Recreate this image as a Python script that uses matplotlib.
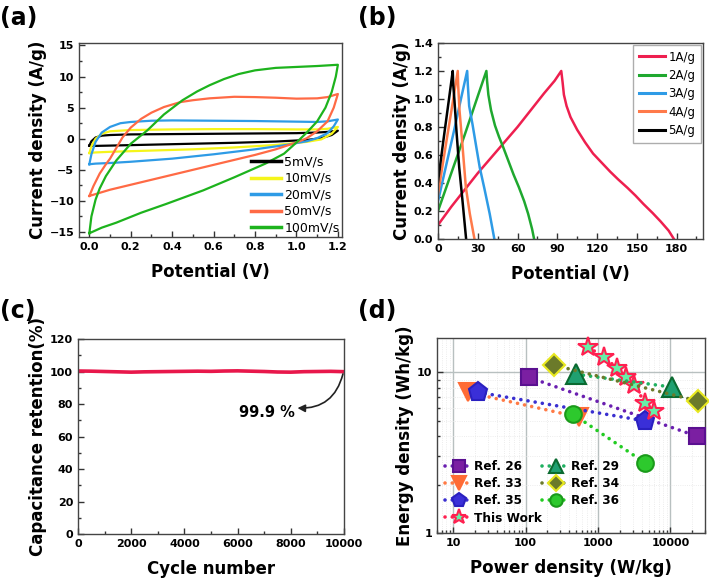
import matplotlib
matplotlib.use("Agg")
import matplotlib.pyplot as plt
from matplotlib.ticker import MultipleLocator, FixedLocator, NullFormatter, LogLocator

plt.rcParams['font.family'] = ['DejaVu Sans']
plt.rcParams['font.weight'] = 'bold'
plt.rcParams['axes.labelweight'] = 'bold'

# ---------------- (a) CV data ----------------
cv_labels = ['5mV/s', '10mV/s', '20mV/s', '50mV/s', '100mV/s']
cv_colors = ['#000000', '#F5F51A', '#2E9BE6', '#FF6A45', '#1DB31D']

cv5_v = [0, 0.01, 0.03, 0.06, 0.1, 0.2, 0.4, 0.6, 0.8, 1.0, 1.1, 1.15, 1.2,
         1.17, 1.12, 1.05, 0.9, 0.7, 0.5, 0.3, 0.1, 0.03, 0]
cv5_i = [-1.1, -0.4, 0.2, 0.5, 0.6, 0.7, 0.75, 0.8, 0.85, 0.9, 1.0, 1.1, 1.3,
         0.6, 0.1, -0.2, -0.45, -0.65, -0.8, -0.95, -1.1, -1.15, -1.1]

cv10_v = [0, 0.01, 0.03, 0.06, 0.1, 0.2, 0.4, 0.6, 0.8, 1.0, 1.1, 1.15, 1.2,
          1.17, 1.12, 1.05, 0.9, 0.7, 0.5, 0.3, 0.1, 0.03, 0]
cv10_i = [-2.3, -1.2, 0.0, 0.8, 1.2, 1.4, 1.5, 1.55, 1.55, 1.5, 1.5, 1.6, 1.9,
          0.8, -0.1, -0.5, -1.0, -1.4, -1.7, -1.9, -2.1, -2.2, -2.3]

cv20_v = [0, 0.01, 0.03, 0.06, 0.1, 0.15, 0.2, 0.3, 0.4, 0.6, 0.8, 1.0, 1.1, 1.15, 1.2,
          1.18, 1.15, 1.1, 1.05, 0.95, 0.8, 0.6, 0.4, 0.2, 0.1, 0.03, 0]
cv20_i = [-4.1, -2.5, -0.5, 1.0, 1.9, 2.5, 2.7, 2.9, 2.95, 2.9, 2.85, 2.75, 2.7, 2.8, 3.1,
          2.0, 0.9, 0.1, -0.4, -1.0, -1.7, -2.5, -3.2, -3.7, -3.9, -4.0, -4.1]

cv50_v = [0, 0.02, 0.05, 0.08, 0.1, 0.13, 0.16, 0.2, 0.25, 0.3, 0.36, 0.44, 0.5, 0.58,
          0.7, 0.8, 0.9, 1.0, 1.1, 1.15, 1.2,
          1.18, 1.15, 1.1, 1.05, 1.0, 0.9, 0.8, 0.7, 0.6, 0.5, 0.4, 0.3, 0.2, 0.1,
          0.05, 0.02, 0]
cv50_i = [-9.2, -7.6, -5.6, -4.1, -3.2, -1.5, 0.2, 1.8, 3.2, 4.2, 5.1, 5.9, 6.2, 6.5,
          6.75, 6.7, 6.6, 6.45, 6.5, 6.7, 7.2,
          5.0, 2.8, 1.2, 0.1, -0.6, -1.7, -2.6, -3.4, -4.2, -5.0, -5.8, -6.6, -7.4, -8.2,
          -8.7, -9.0, -9.2]

cv100_v = [0, 0.01, 0.03, 0.05, 0.08, 0.13, 0.2, 0.28, 0.36, 0.45, 0.52, 0.58, 0.65,
           0.72, 0.8, 0.9, 1.0, 1.1, 1.2,
           1.19, 1.17, 1.14, 1.1, 1.05, 1.0, 0.94, 0.85, 0.7, 0.55, 0.37, 0.25, 0.13,
           0.06, 0.02, 0]
cv100_i = [-15.2, -12.5, -9.8, -8.0, -6.0, -3.5, -0.8, 1.35, 3.9, 6.2, 7.6, 8.6, 9.6,
           10.4, 11.0, 11.4, 11.55, 11.7, 11.9,
           10.0, 7.5, 5.0, 2.8, 1.0, -0.6, -2.4, -4.0, -6.2, -8.3, -10.5, -11.9, -13.5,
           -14.3, -14.9, -15.2]

cv_v = [cv5_v, cv10_v, cv20_v, cv50_v, cv100_v]
cv_i = [cv5_i, cv10_i, cv20_i, cv50_i, cv100_i]

# ---------------- (b) GCD data ----------------
gcd_labels = ['1A/g', '2A/g', '3A/g', '4A/g', '5A/g']
gcd_colors = ['#EE1F4F', '#1FA82F', '#2E9BE6', '#FF7A4A', '#000000']

g1_t = [0, 10, 20, 30, 40, 50, 60, 70, 80, 88, 93, 94, 95, 97, 100, 105, 111, 117, 124,
        130, 136, 143, 149, 155, 162, 168, 174, 178]
g1_i = [0.1, 0.23, 0.35, 0.47, 0.58, 0.69, 0.8, 0.92, 1.04, 1.13, 1.2, 1.12, 1.03, 0.95,
        0.87, 0.78, 0.69, 0.61, 0.54, 0.48, 0.425, 0.365, 0.31, 0.25, 0.185, 0.125, 0.06, 0.0]
g2_t = [0, 10, 20, 30, 36.5, 37, 38, 40, 43, 46, 49, 53, 57, 61, 65, 68, 71, 72.5]
g2_i = [0.2, 0.47, 0.74, 1.02, 1.2, 1.13, 1.03, 0.92, 0.81, 0.73, 0.66, 0.56, 0.46, 0.37,
        0.27, 0.18, 0.07, 0.0]
g3_t = [0, 6, 12, 18, 22, 22.5, 23.5, 26, 29, 31.5, 35, 39, 42.5]
g3_i = [0.27, 0.52, 0.77, 1.03, 1.2, 1.1, 0.95, 0.82, 0.65, 0.51, 0.36, 0.18, 0.0]
g4_t = [0, 5, 10, 14.9, 15.2, 16.2, 18, 21, 24, 27.5]
g4_i = [0.32, 0.62, 0.91, 1.2, 1.1, 0.92, 0.72, 0.37, 0.18, 0.0]
g5_t = [0, 4, 8, 11.1, 11.5, 12.4, 14, 16, 18.5, 21.2]
g5_i = [0.41, 0.7, 0.98, 1.2, 1.1, 0.99, 0.76, 0.51, 0.27, 0.0]

gcd_t = [g1_t, g2_t, g3_t, g4_t, g5_t]
gcd_i = [g1_i, g2_i, g3_i, g4_i, g5_i]

# ---------------- (c) cycling data ----------------
cycles = [0, 500, 1000, 1500, 2000, 2500, 3000, 3500, 4000, 4500, 5000, 5500, 6000,
          6500, 7000, 7500, 8000, 8500, 9000, 9500, 10000]
retention = [100.3, 100.2, 100.0, 99.8, 99.6, 99.8, 99.9, 100.0, 100.1, 100.2, 100.1,
             100.3, 100.4, 100.2, 100.0, 99.7, 99.6, 99.9, 100.0, 100.1, 99.9]

# ---------------- (d) Ragone data ----------------
rag_labels = ['Ref. 26', 'Ref. 33', 'Ref. 35', 'This Work', 'Ref. 29', 'Ref. 34', 'Ref. 36']
rag_p = [[110, 23000], [16, 550], [22, 4500],
         [730, 1210, 1830, 2430, 3140, 4520, 6020],
         [500, 10600], [247, 24300], [452, 4500]]
rag_e = [[9.3, 4.0], [7.5, 5.25], [7.5, 4.97],
         [14.3, 12.4, 10.6, 9.3, 8.3, 6.4, 5.7],
         [9.7, 8.07], [11.05, 6.6], [5.48, 2.72]]
rag_line = ['#6A1FB0', '#FF7A45', '#3A2FD0', '#FF2050', '#1FB060', '#6B7A2A', '#22CC22']
rag_face = ['#7B1FA2', '#FF6B35', '#3A2FD8', '#66F0A8', '#1FA070', '#6B7A2A', '#2DC92D']
rag_edge = ['#5A1090', '#FF6B35', '#2A20C0', '#FF2050', '#0A6A30', '#E8E820', '#1A9A1A']
rag_marker = ['s', 'v', 'p', '*', '^', 'D', 'o']
rag_msize = [12, 13, 14, 15, 14, 11, 12]

fig = plt.figure(figsize=(7.09, 5.86), dpi=100)

TICK_FS = 8
LABEL_FS = 12


def style(ax):
    for s in ax.spines.values():
        s.set_color('#444444')
        s.set_linewidth(1.0)
    ax.tick_params(which='major', length=4, direction='in', labelsize=TICK_FS,
                   width=1, color='#333333')
    ax.tick_params(which='minor', length=2.5, direction='in', width=1, color='#333333')


# (a)
axa = fig.add_axes([0.1114, 0.5956, 0.371, 0.331])
for v, i, c, lab in zip(cv_v, cv_i, cv_colors, cv_labels):
    axa.plot(v, i, color=c, lw=1.6, label=lab)
axa.set_xlim(-0.05, 1.22)
axa.set_ylim(-15.8, 15.4)
axa.xaxis.set_major_locator(MultipleLocator(0.2))
axa.xaxis.set_minor_locator(MultipleLocator(0.1))
axa.yaxis.set_major_locator(MultipleLocator(5))
axa.yaxis.set_minor_locator(MultipleLocator(2.5))
axa.xaxis.set_major_formatter(matplotlib.ticker.FormatStrFormatter('%.1f'))
style(axa)
axa.set_xlabel('Potential (V)', fontsize=LABEL_FS, labelpad=8)
axa.set_ylabel('Current density (A/g)', fontsize=LABEL_FS, labelpad=2)
leg = axa.legend(loc='lower right', frameon=False, handlelength=2.4,
                 labelspacing=0.28, borderaxespad=0.0, handletextpad=0.3,
                 borderpad=0.2,
                 prop={'weight': 'normal', 'size': 9})
for l in leg.get_lines():
    l.set_linewidth(2.5)

# (b)
axb = fig.add_axes([0.6178, 0.5922, 0.3738, 0.3345])
for t, i, c, lab in zip(gcd_t, gcd_i, gcd_colors, gcd_labels):
    axb.plot(t, i, color=c, lw=1.8, label=lab)
axb.set_xlim(0, 200)
axb.set_ylim(0, 1.4)
axb.xaxis.set_major_locator(FixedLocator([0, 30, 60, 90, 120, 150, 180]))
axb.xaxis.set_minor_locator(MultipleLocator(15))
axb.yaxis.set_major_locator(MultipleLocator(0.2))
axb.yaxis.set_minor_locator(MultipleLocator(0.1))
axb.yaxis.set_major_formatter(matplotlib.ticker.FormatStrFormatter('%.1f'))
style(axb)
axb.set_xlabel('Potential (V)', fontsize=LABEL_FS, labelpad=8)
axb.set_ylabel('Current density (A/g)', fontsize=LABEL_FS, labelpad=2)
legb = axb.legend(loc='upper right', fancybox=False, edgecolor='#999999',
                  handlelength=2.2, labelspacing=0.45, borderaxespad=0.15,
                  handletextpad=0.3, borderpad=0.5,
                  prop={'weight': 'normal', 'size': 8.5})
legb.get_frame().set_linewidth(1.0)
for l in legb.get_lines():
    l.set_linewidth(2.2)

# (c)
axc = fig.add_axes([0.11, 0.0887, 0.3752, 0.3328])
axc.plot(cycles, retention, color='#E8174B', lw=2.6)
axc.set_xlim(0, 10000)
axc.set_ylim(0, 120)
axc.xaxis.set_major_locator(MultipleLocator(2000))
axc.xaxis.set_minor_locator(MultipleLocator(1000))
axc.yaxis.set_major_locator(MultipleLocator(20))
axc.yaxis.set_minor_locator(MultipleLocator(10))
style(axc)
axc.set_xlabel('Cycle number', fontsize=LABEL_FS, labelpad=8)
axc.set_ylabel('Capacitance retention(%)', fontsize=LABEL_FS, labelpad=2)
axc.text(7100, 74.5, '99.9 %', fontsize=10.5, fontweight='bold', ha='center', va='center')
axc.annotate('', xy=(8250, 77.5), xytext=(9960, 98.5),
             arrowprops=dict(arrowstyle='-|>', color='#222222', lw=1.2,
                             mutation_scale=11,
                             connectionstyle='arc3,rad=-0.4', shrinkA=0, shrinkB=0))

# (d)
axd = fig.add_axes([0.6164, 0.0904, 0.378, 0.3328])
axd.set_xscale('log')
axd.set_yscale('log')
handles = []
for p, e, lc, fc, ec, mk, ms, lab in zip(rag_p, rag_e, rag_line, rag_face, rag_edge,
                                         rag_marker, rag_msize, rag_labels):
    h, = axd.plot(p, e, color=lc, lw=2.6, linestyle=(0, (0.01, 2.0)),
                  dash_capstyle='round', marker=mk, markersize=ms,
                  markerfacecolor=fc, markeredgecolor=ec, markeredgewidth=1.5,
                  label=lab, clip_on=False, zorder=3)
    handles.append(h)
axd.set_xlim(6, 30000)
axd.set_ylim(1, 16.3)
axd.grid(True, which='major', color='#B8C0C0', lw=1.0, zorder=0)
axd.grid(True, which='minor', color='#E6E6E6', lw=0.6, linestyle=':', zorder=0)
axd.set_axisbelow(True)
ragone_xticks = [10, 100, 1000, 10000]
ragone_xticklabels = ['10', '100', '1000', '10000']
ragone_yticks = [1, 10]
ragone_yticklabels = ['1', '10']
axd.set_xticks(ragone_xticks)
axd.set_xticklabels(ragone_xticklabels)
axd.set_yticks(ragone_yticks)
axd.set_yticklabels(ragone_yticklabels)
axd.xaxis.set_minor_locator(LogLocator(base=10, subs=range(2, 10)))
axd.yaxis.set_minor_locator(LogLocator(base=10, subs=range(2, 10)))
axd.xaxis.set_minor_formatter(NullFormatter())
axd.yaxis.set_minor_formatter(NullFormatter())
style(axd)
axd.set_xlabel('Power density (W/kg)', fontsize=LABEL_FS, labelpad=8)
axd.set_ylabel('Energy density (Wh/kg)', fontsize=LABEL_FS, labelpad=2)
legd = axd.legend(handles=handles, ncol=2, loc='lower left', frameon=False,
                  handlelength=2.2, handletextpad=0.2, columnspacing=0.0,
                  labelspacing=0.35, borderaxespad=0.3, markerscale=0.75,
                  prop={'weight': 'bold', 'size': 8.7})

# panel letters
for x, y, s in [(0.0, 0.99, '(a)'), (0.505, 0.99, '(b)'),
                (0.0, 0.49, '(c)'), (0.505, 0.49, '(d)')]:
    fig.text(x, y, s, fontsize=17, fontweight='bold', ha='left', va='top')

fig.savefig('out.png', dpi=100)
